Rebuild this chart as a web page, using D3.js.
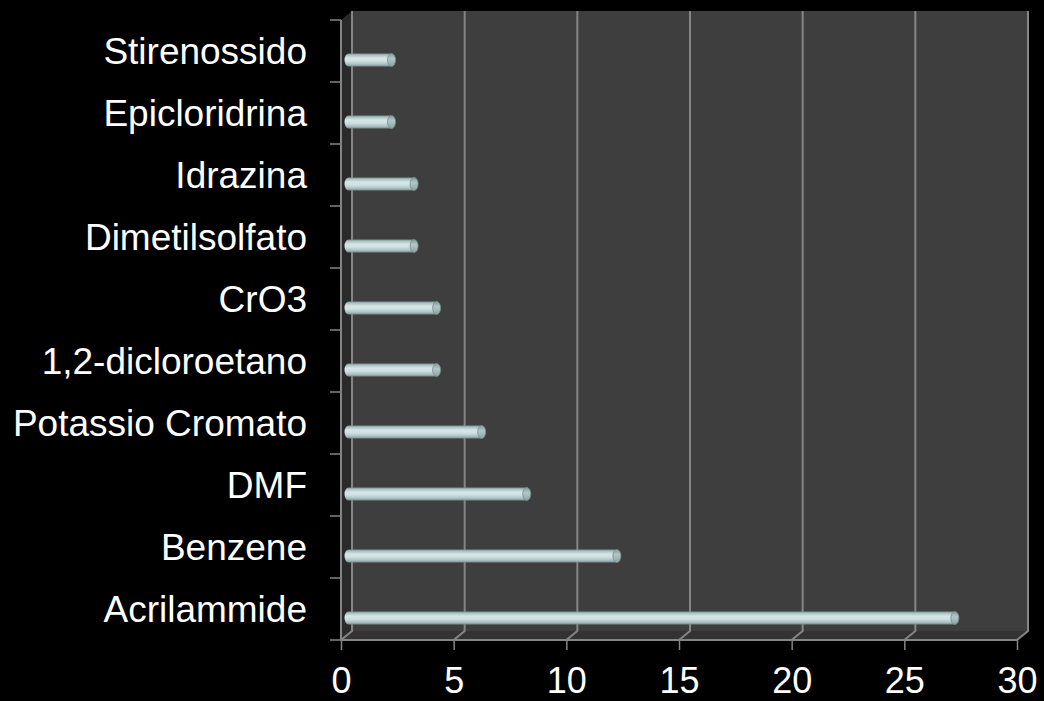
<!DOCTYPE html>
<html>
<head>
<meta charset="utf-8">
<script src="https://cdn.jsdelivr.net/npm/d3@7"></script>
<style>
  html, body { margin: 0; padding: 0; background: #000; }
  svg { display: block; }
  text { font-family: "Liberation Sans", Arial, sans-serif; fill: #fff; }
</style>
</head>
<body>
<svg id="chart" width="1044" height="701"></svg>
<script>
// Substances, listed bottom to top as they appear on the category axis
const categories = [
  "Acrilammide", "Benzene", "DMF", "Potassio Cromato", "1,2-dicloroetano",
  "CrO3", "Dimetilsolfato", "Idrazina", "Epicloridrina", "Stirenossido"
];
const values = [27, 12, 8, 6, 4, 4, 3, 3, 2, 2];
const xTicks = [0, 5, 10, 15, 20, 25, 30];

const svg = d3.select("#chart");
svg.append("rect").attr("width", 1044).attr("height", 701).attr("fill", "#000");

// Front plane of the 3D box and its depth offset
const plotLeft = 341, plotRight = 1017, plotTop = 20, plotBottom = 640;
const depthX = 11, depthY = -9;

const x = d3.scaleLinear().domain([0, 30]).range([plotLeft, plotRight]);
const y = d3.scaleBand().domain(categories.slice().reverse()).range([plotTop, plotBottom]);

const defs = svg.append("defs");
const bodyGrad = defs.append("linearGradient")
  .attr("id", "cyl").attr("x1", 0).attr("y1", 0).attr("x2", 0).attr("y2", 1);
[["0%", "#7d9495"], ["14%", "#adc3c4"], ["35%", "#d5e6e6"], ["58%", "#d0e1e1"],
 ["82%", "#adc2c3"], ["100%", "#788e8f"]]
  .forEach(([o, c]) => bodyGrad.append("stop").attr("offset", o).attr("stop-color", c));
const capGrad = defs.append("linearGradient")
  .attr("id", "cap").attr("x1", 0).attr("y1", 0).attr("x2", 0).attr("y2", 1);
[["0%", "#859c9d"], ["40%", "#b3c7c7"], ["100%", "#8ca2a3"]]
  .forEach(([o, c]) => capGrad.append("stop").attr("offset", o).attr("stop-color", c));

const g = svg.append("g");
const gridColor = "#858585";

// Back wall
g.append("rect")
  .attr("x", x(0) + depthX).attr("y", plotTop + depthY)
  .attr("width", x(30) - x(0)).attr("height", plotBottom - plotTop)
  .attr("fill", "#3e3e3e");

// Side wall
g.append("polygon")
  .attr("points", [[x(0), plotTop], [x(0) + depthX, plotTop + depthY],
                   [x(0) + depthX, plotBottom + depthY], [x(0), plotBottom]].join(" "))
  .attr("fill", "#2a2a2a");

// Floor
g.append("polygon")
  .attr("points", [[x(0), plotBottom], [x(0) + depthX, plotBottom + depthY],
                   [x(30) + depthX, plotBottom + depthY], [x(30), plotBottom]].join(" "))
  .attr("fill", "#333333");

// Gridlines: up the back wall, then across the floor to the front edge
g.selectAll("path.grid").data(xTicks).join("path")
  .attr("class", "grid")
  .attr("d", d => `M${x(d) + depthX},${plotTop + depthY}V${plotBottom + depthY}L${x(d)},${plotBottom}`)
  .attr("fill", "none").attr("stroke", gridColor).attr("stroke-width", 2);

// Front edge of the floor and the value-axis baseline
g.append("line")
  .attr("x1", x(0)).attr("x2", x(30)).attr("y1", plotBottom).attr("y2", plotBottom)
  .attr("stroke", gridColor).attr("stroke-width", 2);
g.append("line")
  .attr("x1", x(0)).attr("x2", x(0)).attr("y1", plotTop).attr("y2", plotBottom)
  .attr("stroke", gridColor).attr("stroke-width", 2);

// Category axis tick marks at band boundaries
const bounds = d3.range(categories.length + 1).map(i => plotTop + i * y.step());
g.selectAll("line.ytick").data(bounds).join("line")
  .attr("class", "ytick")
  .attr("x1", x(0) - 11).attr("x2", x(0)).attr("y1", d => d).attr("y2", d => d)
  .attr("stroke", gridColor).attr("stroke-width", 1.5);

// Cylindrical bars
const barH = 13, shiftY = 9, capR = 4;
const bars = g.selectAll("g.bar").data(categories.map((c, i) => ({ c, v: values[i] })))
  .join("g").attr("class", "bar");
bars.append("path")
  .attr("d", d => {
    const cy = y(d.c) + y.bandwidth() / 2 + shiftY;
    const x0 = x(0) + depthX / 2 - 2, x1 = x(d.v) + depthX / 2;
    const t = cy - barH / 2, b = cy + barH / 2;
    return `M${x1},${t}H${x0 + capR}A${capR},${barH / 2} 0 0 0 ${x0 + capR},${b}H${x1}Z`;
  })
  .attr("fill", "url(#cyl)");
bars.append("ellipse")
  .attr("cx", d => x(d.v) + depthX / 2)
  .attr("cy", d => y(d.c) + y.bandwidth() / 2 + shiftY)
  .attr("rx", capR).attr("ry", barH / 2)
  .attr("fill", "url(#cap)")
  .attr("stroke", "#73898a").attr("stroke-width", 0.8);

// Value axis
const xAxis = svg.append("g")
  .attr("transform", `translate(0,${plotBottom})`)
  .call(d3.axisBottom(x).tickValues(xTicks).tickSize(10).tickSizeOuter(0).tickPadding(17));
xAxis.select(".domain").remove();
xAxis.selectAll(".tick line").attr("stroke", gridColor).attr("stroke-width", 1.5);
xAxis.selectAll(".tick text")
  .attr("fill", "#fff").style("font-size", "36px")
  .style("font-family", '"Liberation Sans", Arial, sans-serif');

// Category axis labels
const yAxis = svg.append("g")
  .attr("transform", `translate(${x(0)},0)`)
  .call(d3.axisLeft(y).tickSize(0).tickPadding(34));
yAxis.select(".domain").remove();
yAxis.selectAll(".tick text")
  .attr("fill", "#fff").attr("dy", "0.355em")
  .style("font-size", "37px")
  .style("font-family", '"Liberation Sans", Arial, sans-serif');
</script>
</body>
</html>
